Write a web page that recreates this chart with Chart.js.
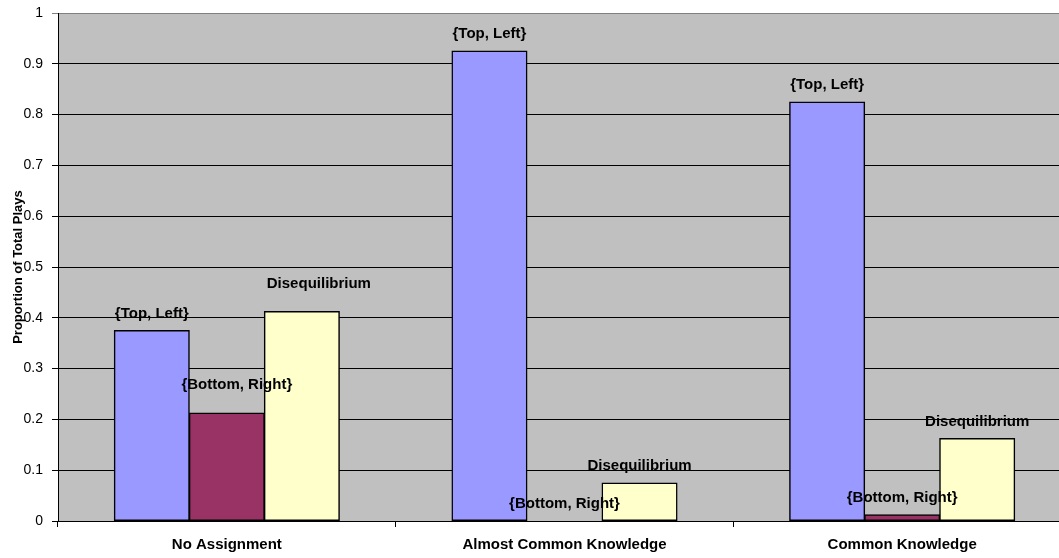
<!DOCTYPE html>
<html>
<head>
<meta charset="utf-8">
<script src="https://cdn.jsdelivr.net/npm/chart.js@4/dist/chart.umd.min.js"></script>
<style>
    html, body { margin: 0; padding: 0; background: #fff; overflow: hidden; }
    #wrap { width: 1071px; height: 558px; }
</style>
</head>
<body>
<div id="wrap"><canvas id="playsChart" width="1071" height="558"></canvas></div>
<script>
// Categories (treatments) and the three outcome series
const categories = ['No Assignment', 'Almost Common Knowledge', 'Common Knowledge'];
const seriesNames = ['{Top, Left}', '{Bottom, Right}', 'Disequilibrium'];
const topLeft = [0.375, 0.925, 0.825];
const bottomRight = [0.2125, 0, 0.0125];
const disequilibrium = [0.4125, 0.075, 0.1625];
const yTicks = [0, 0.1, 0.2, 0.3, 0.4, 0.5, 0.6, 0.7, 0.8, 0.9, 1];

const seriesColors = ['#9999FF', '#993366', '#FFFFCC'];
const fontFamily = '"Liberation Sans", Arial, sans-serif';
const labelFont = 'bold 15px ' + fontFamily;

// Gray plot background like Excel
const plotBackground = {
    id: 'plotBackground',
    beforeDraw(chart) {
        const { ctx, chartArea: a } = chart;
        ctx.save();
        ctx.fillStyle = '#C0C0C0';
        ctx.fillRect(a.left, a.top, a.right - a.left, a.bottom - a.top);
        ctx.restore();
    }
};

// Series name drawn above each bar (Excel "series name" data labels)
const seriesLabels = {
    id: 'seriesLabels',
    afterDatasetsDraw(chart) {
        const ctx = chart.ctx;
        // small manual shifts Excel applied to overlapping labels in the first group
        const nudge = { '1-0': [10, -11], '2-0': [17, -11] };
        ctx.save();
        ctx.font = labelFont;
        ctx.fillStyle = '#000';
        ctx.textAlign = 'center';
        ctx.textBaseline = 'middle';
        chart.data.datasets.forEach((ds, i) => {
            chart.getDatasetMeta(i).data.forEach((bar, j) => {
                const n = nudge[i + '-' + j] || [0, 0];
                ctx.fillText(ds.label, bar.x + n[0], bar.y - 17 + n[1]);
            });
        });
        ctx.restore();
    }
};

const ctx = document.getElementById('playsChart').getContext('2d');
const chart = new Chart(ctx, {
    type: 'bar',
    plugins: [plotBackground, seriesLabels],
    data: {
        labels: categories,
        datasets: [topLeft, bottomRight, disequilibrium].map((values, i) => ({
            label: seriesNames[i],
            data: values,
            backgroundColor: seriesColors[i],
            borderColor: '#000',
            borderWidth: 1.5,
            borderSkipped: false,
            inflateAmount: 0.5,
            categoryPercentage: 2 / 3,
            barPercentage: 1,
        })),
    },
    options: {
        responsive: false,
        animation: false,
        devicePixelRatio: 1,
        layout: { padding: { top: 13, right: 0, left: 0, bottom: 0 } },
        plugins: {
            legend: { display: false },
            tooltip: { enabled: false },
        },
        scales: {
            x: {
                grid: {
                    offset: true,
                    drawOnChartArea: false,
                    tickLength: 6,
                    color: '#000',
                },
                border: { color: '#000', width: 1 },
                ticks: {
                    color: '#000',
                    padding: 9,
                    maxRotation: 0,
                    font: { family: fontFamily, size: 15, weight: 'bold' },
                },
                afterFit(scale) { scale.height = 37; },
            },
            y: {
                min: 0,
                max: 1,
                afterBuildTicks(scale) { scale.ticks = yTicks.map(v => ({ value: v })); },
                grid: {
                    color: (c) => (c.tick && c.tick.value === 1 ? '#808080' : '#000'),
                    tickLength: 6,
                },
                border: { color: '#000', width: 1 },
                ticks: {
                    color: '#000',
                    padding: 9,
                    callback: (v) => String(+v.toFixed(1)),
                    font: { family: fontFamily, size: 14 },
                },
                title: {
                    display: true,
                    text: 'Proportion of Total Plays',
                    color: '#000',
                    padding: { top: 11, bottom: 0 },
                    font: { family: fontFamily, size: 13, weight: 'bold' },
                },
                afterFit(scale) {
                    scale.width = 58;
                    // let layout.padding decide the top edge of the plot
                    scale.paddingTop = 0;
                    scale.paddingBottom = 0;
                },
            },
        },
    },
});
</script>
</body>
</html>
